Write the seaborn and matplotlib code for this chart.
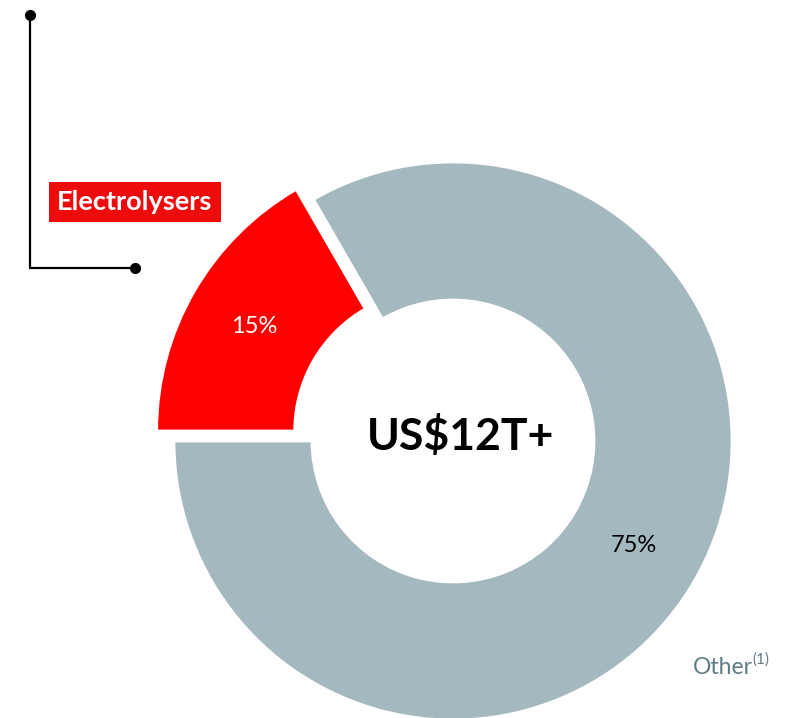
import matplotlib
matplotlib.use("Agg")
import matplotlib.pyplot as plt
import seaborn as sns

# data
segments = ["Electrolysers", "Other"]
shares = [15, 75]
share_labels = ["15%", "75%"]
seg_colors = ["#FF0000", "#A3B8BF"]
label_colors = ["white", "black"]
total_label = "US$12T+"

W, H = 785, 718


def py(y):
    # pixel row (from top) -> data y (from bottom)
    return H - y


def main():
    sns.set_theme(style="white")
    plt.rcParams["font.family"] = ["Lato", "DejaVu Sans"]

    fig = plt.figure(figsize=(W / 100, H / 100), dpi=100)
    ax = fig.add_axes([0, 0, 1, 1])

    # explode is in data units (pixels here)
    wedges, texts = ax.pie(
        shares,
        labels=share_labels,
        colors=seg_colors,
        explode=[20, 0],
        startangle=180,
        counterclock=False,
        center=(453, py(441)),
        radius=279,
        labeldistance=0.75,
        wedgeprops=dict(width=138, edgecolor="white", linewidth=2),
        textprops=dict(fontsize=17),
    )
    for t, c in zip(texts, label_colors):
        t.set_ha("center")
        t.set_va("center")
        t.set_color(c)

    ax.text(461, py(436), total_label, ha="center", va="center",
            fontsize=32, fontweight="bold", color="black")

    # callout bracket for the highlighted segment
    ax.plot([30, 30, 135], [py(15), py(268), py(268)], color="black", lw=1.6,
            solid_joinstyle="miter")
    ax.plot([30, 135], [py(15), py(268)], "o", color="black", ms=7)
    ax.text(135, py(202), segments[0], ha="center", va="center", fontsize=19.5,
            fontweight="bold", color="white",
            bbox=dict(boxstyle="square,pad=0.3", fc="#EE0B0B", ec="none"))

    ax.text(693, py(667), segments[1], ha="left", va="center", fontsize=16.5,
            color="#5E7C85")
    ax.text(752, py(660), "(1)", ha="left", va="center", fontsize=11,
            color="#5E7C85")

    ax.set_xlim(0, W)
    ax.set_ylim(0, H)
    ax.set_aspect("equal")
    ax.axis("off")

    fig.savefig("out.png", dpi=100)


if __name__ == "__main__":
    main()
